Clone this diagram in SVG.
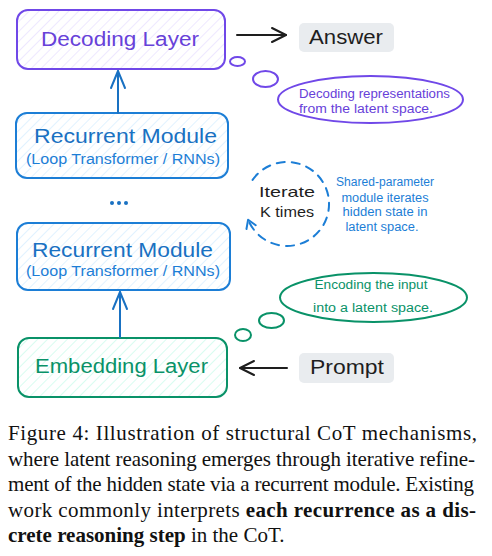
<svg xmlns="http://www.w3.org/2000/svg" width="492" height="556" viewBox="0 0 492 556">
<style>
.hand{font-family:"Liberation Sans","DejaVu Sans",sans-serif;}
.box{stroke-width:2;}
.purple{fill:#6741d9;}
.blue{fill:#1971c2;}
.green{fill:#099268;}
.dark{fill:#1e1e1e;}
.cap{font-family:"Liberation Serif","Times New Roman",serif;font-size:21px;fill:#111;}
.bold{font-weight:bold;}
.bubble{fill:none;stroke-width:2;}
</style>
<defs>
<pattern id="hp" width="7" height="7" patternUnits="userSpaceOnUse" patternTransform="rotate(45)"><line x1="0" y1="0" x2="0" y2="7" stroke="#e5dbff" stroke-width="1.3"/></pattern>
<pattern id="hb" width="7" height="7" patternUnits="userSpaceOnUse" patternTransform="rotate(45)"><line x1="0" y1="0" x2="0" y2="7" stroke="#d0ebff" stroke-width="1.3"/></pattern>
<pattern id="hg" width="7" height="7" patternUnits="userSpaceOnUse" patternTransform="rotate(45)"><line x1="0" y1="0" x2="0" y2="7" stroke="#c3fae8" stroke-width="1.3"/></pattern>
<marker id="ab" viewBox="-20 -10 24 20" refX="0" refY="0" markerWidth="24" markerHeight="20" markerUnits="userSpaceOnUse" orient="auto" overflow="visible"><path d="M-17,-7 L0,0 L-17,7" fill="none" stroke="#1971c2" stroke-width="2" stroke-linecap="round" stroke-linejoin="round"/></marker>
<marker id="ak" viewBox="-20 -10 24 20" refX="0" refY="0" markerWidth="24" markerHeight="20" markerUnits="userSpaceOnUse" orient="auto" overflow="visible"><path d="M-14,-7 L0,0 L-14,7" fill="none" stroke="#1e1e1e" stroke-width="2" stroke-linecap="round" stroke-linejoin="round"/></marker>
<marker id="ai" viewBox="-20 -10 24 20" refX="0" refY="0" markerWidth="24" markerHeight="20" markerUnits="userSpaceOnUse" orient="auto" overflow="visible"><path d="M-8,-5 L0,0 L-8,5" fill="none" stroke="#1c7ed6" stroke-width="2" stroke-linecap="round" stroke-linejoin="round"/></marker>
</defs>
<rect width="492" height="556" fill="#ffffff"/>

<g id="decoding-layer">
<rect x="17" y="10" width="208" height="59" rx="11" fill="url(#hp)" stroke="#7048e8" class="box"/>
<text x="41" y="46" class="hand purple" font-size="20" textLength="158" lengthAdjust="spacingAndGlyphs">Decoding Layer</text>
</g>

<g id="recurrent-module-1">
<rect x="16" y="113" width="212" height="65" rx="11" fill="url(#hb)" stroke="#1c7ed6" class="box"/>
<text x="34" y="143" class="hand blue" font-size="20" textLength="183" lengthAdjust="spacingAndGlyphs">Recurrent Module</text>
<text x="26" y="164" class="hand" fill="#1c7ed6" font-size="14" textLength="194" lengthAdjust="spacingAndGlyphs">(Loop Transformer / RNNs)</text>
</g>

<g id="ellipsis">
<circle cx="112" cy="203" r="2" fill="#1971c2"/>
<circle cx="119" cy="203" r="2" fill="#1971c2"/>
<circle cx="126" cy="203" r="2" fill="#1971c2"/>
</g>

<g id="recurrent-module-2">
<rect x="17" y="223" width="213" height="67" rx="11" fill="url(#hb)" stroke="#1c7ed6" class="box"/>
<text x="32" y="257" class="hand blue" font-size="20" textLength="181" lengthAdjust="spacingAndGlyphs">Recurrent Module</text>
<text x="26" y="276" class="hand" fill="#1c7ed6" font-size="14" textLength="194" lengthAdjust="spacingAndGlyphs">(Loop Transformer / RNNs)</text>
</g>

<g id="embedding-layer">
<rect x="18" y="338" width="209" height="59" rx="11" fill="url(#hg)" stroke="#099268" class="box"/>
<text x="35" y="373" class="hand green" font-size="20" textLength="173" lengthAdjust="spacingAndGlyphs">Embedding Layer</text>
</g>

<g id="answer">
<rect x="299" y="23" width="95" height="29" rx="5" fill="#e9ecef"/>
<text x="309" y="44" class="hand dark" font-size="20" textLength="74" lengthAdjust="spacingAndGlyphs">Answer</text>
</g>

<g id="prompt">
<rect x="299" y="353" width="95" height="30" rx="5" fill="#e9ecef"/>
<text x="310" y="374" class="hand dark" font-size="20" textLength="74" lengthAdjust="spacingAndGlyphs">Prompt</text>
</g>

<g id="decoding-note">
<ellipse cx="237.5" cy="61.5" rx="7.5" ry="4.5" class="bubble" stroke="#7048e8"/>
<ellipse cx="265.5" cy="79" rx="12.5" ry="8" class="bubble" stroke="#7048e8"/>
<ellipse cx="370.5" cy="99.5" rx="92.5" ry="23.5" class="bubble" stroke="#7048e8"/>
<text x="299" y="97.5" class="hand purple" font-size="12" textLength="151" lengthAdjust="spacingAndGlyphs">Decoding representations</text>
<text x="299" y="112.5" class="hand purple" font-size="12" textLength="134" lengthAdjust="spacingAndGlyphs">from the latent space.</text>
</g>

<g id="iterate">
<text x="287" y="196.5" class="hand dark" font-size="15" text-anchor="middle" textLength="56" lengthAdjust="spacingAndGlyphs">Iterate</text>
<text x="287" y="216.5" class="hand dark" font-size="15" text-anchor="middle" textLength="54" lengthAdjust="spacingAndGlyphs">K times</text>
</g>

<g id="iterate-note">
<text x="385" y="186" class="hand" fill="#1c7ed6" font-size="12" text-anchor="middle" textLength="98" lengthAdjust="spacingAndGlyphs">Shared-parameter</text>
<text x="385" y="201.5" class="hand" fill="#1c7ed6" font-size="12" text-anchor="middle" textLength="87" lengthAdjust="spacingAndGlyphs">module iterates</text>
<text x="385" y="216" class="hand" fill="#1c7ed6" font-size="12" text-anchor="middle" textLength="85" lengthAdjust="spacingAndGlyphs">hidden state in</text>
<text x="382" y="230.5" class="hand" fill="#1c7ed6" font-size="12" text-anchor="middle" textLength="73" lengthAdjust="spacingAndGlyphs">latent space.</text>
</g>

<g id="encoding-note">
<ellipse cx="243" cy="335" rx="8" ry="6" class="bubble" stroke="#099268"/>
<ellipse cx="271.5" cy="320.5" rx="12.5" ry="7.5" class="bubble" stroke="#099268"/>
<ellipse cx="373.5" cy="297.5" rx="93.5" ry="24.5" class="bubble" stroke="#099268"/>
<text x="371" y="289" class="hand green" font-size="12" text-anchor="middle" textLength="113" lengthAdjust="spacingAndGlyphs">Encoding the input</text>
<text x="373" y="312" class="hand green" font-size="12" text-anchor="middle" textLength="120" lengthAdjust="spacingAndGlyphs">into a latent space.</text>
</g>

<g id="connectors" fill="none" stroke-linecap="round">
<path d="M118,113 L118,71" stroke="#1971c2" stroke-width="2" marker-end="url(#ab)"/>
<path d="M120,337 L120,292" stroke="#1971c2" stroke-width="2" marker-end="url(#ab)"/>
<path d="M237,35 L286,35" stroke="#1e1e1e" stroke-width="2" marker-end="url(#ak)"/>
<path d="M287,368 L240,368" stroke="#1e1e1e" stroke-width="2" marker-end="url(#ak)"/>
<path d="M252.6,179.9 A42,42 0 1 1 248.1,219.7" stroke="#1c7ed6" stroke-width="2" stroke-dasharray="8 7" marker-end="url(#ai)"/>
</g>

<g id="caption">
<text x="8" y="440" class="cap" textLength="469" lengthAdjust="spacing">Figure 4:  Illustration of structural CoT mechanisms,</text>
<text x="8" y="466" class="cap" textLength="467" lengthAdjust="spacing">where latent reasoning emerges through iterative refine-</text>
<text x="8" y="491" class="cap" textLength="466" lengthAdjust="spacing">ment of the hidden state via a recurrent module. Existing</text>
<text x="8" y="517" class="cap" textLength="468" lengthAdjust="spacing">work commonly interprets <tspan class="bold">each recurrence as a dis-</tspan></text>
<text x="8" y="542" class="cap"><tspan class="bold">crete reasoning step</tspan> in the CoT.</text>
</g>
</svg>
